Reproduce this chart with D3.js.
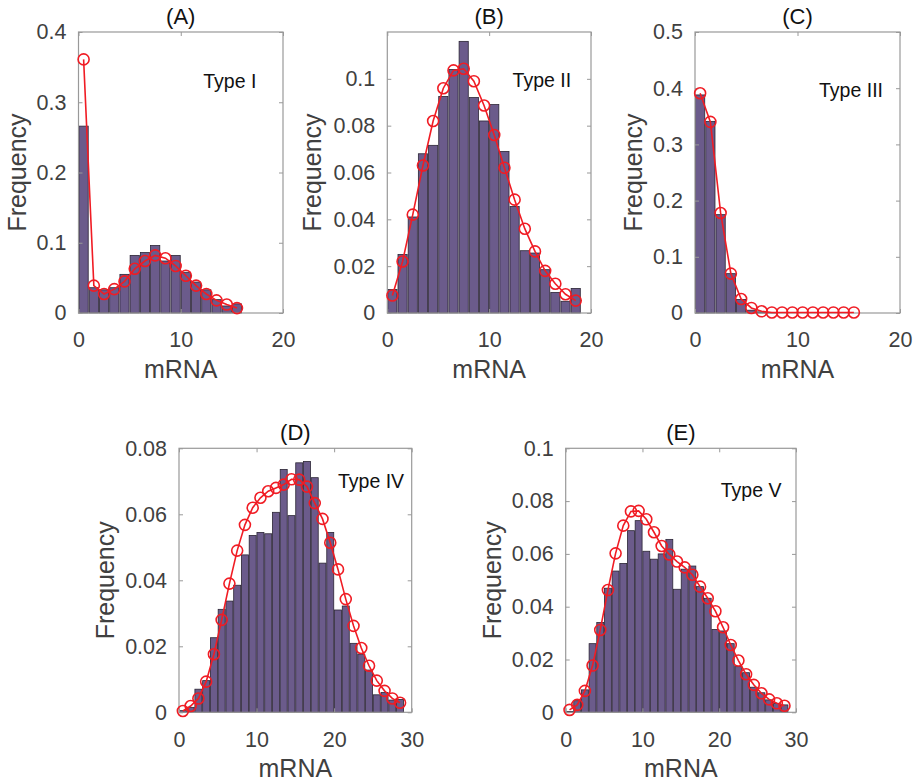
<!DOCTYPE html>
<html>
<head>
<meta charset="utf-8">
<script src="https://cdn.jsdelivr.net/npm/d3@7"></script>
<style>
  body { margin: 0; background: #fff; }
  svg { font-family: "Liberation Sans", Arial, Helvetica, sans-serif; }
  .tick text { fill: #404040; font-size: 21.5px; }
  .axlabel { fill: #404040; font-size: 25px; }
  .ptitle { fill: #111; font-size: 22px; }
  .ptype { fill: #111; font-size: 19.5px; }
</style>
</head>
<body>
<div id="chart"></div>
<script>
// histogram bar heights (bins of width 1 starting at 0) and model points (at bin centres)
var barsA = [0.266, 0.036, 0.033, 0.036, 0.055, 0.082, 0.086, 0.096, 0.074, 0.082, 0.058, 0.044, 0.033, 0.019, 0.010, 0.013];
var fitA  = [0.361, 0.039, 0.027, 0.034, 0.045, 0.063, 0.074, 0.082, 0.078, 0.067, 0.053, 0.039, 0.027, 0.018, 0.012, 0.007];

var barsB = [0.010, 0.025, 0.041, 0.068, 0.0716, 0.0925, 0.104, 0.116, 0.092, 0.082, 0.089, 0.069, 0.0455, 0.0266, 0.0256, 0.0185, 0.0088, 0.005, 0.0105];
var fitB  = [0.0075, 0.022, 0.042, 0.063, 0.082, 0.096, 0.1036, 0.1043, 0.099, 0.0886, 0.076, 0.062, 0.0484, 0.036, 0.0263, 0.018, 0.0125, 0.008, 0.0053];

var barsC = [0.388, 0.341, 0.175, 0.070, 0.024, 0.005, 0.002, 0.001];
var fitC  = [0.391, 0.340, 0.178, 0.070, 0.025, 0.009, 0.003, 0.001, 0.001, 0.001, 0.001, 0.001, 0.001, 0.001, 0.001, 0.001];

var barsD = [0.0005, 0.0015, 0.007, 0.0096, 0.0226, 0.0312, 0.0337, 0.0385, 0.0477, 0.0536, 0.0545, 0.0541, 0.0606, 0.0736, 0.0596, 0.0756, 0.076, 0.0711, 0.0452, 0.0545, 0.031, 0.0322, 0.0209, 0.0176, 0.0128, 0.0053, 0.006, 0.0037, 0.0039];
var fitD  = [0.0004, 0.0019, 0.0042, 0.0093, 0.0176, 0.028, 0.039, 0.049, 0.0568, 0.062, 0.065, 0.067, 0.068, 0.069, 0.0706, 0.0705, 0.0684, 0.0634, 0.0586, 0.0514, 0.0433, 0.0343, 0.0262, 0.0195, 0.0141, 0.0096, 0.0065, 0.0042, 0.0029];

var barsE = [0.0003, 0.0044, 0.0085, 0.026, 0.034, 0.047, 0.0535, 0.0564, 0.0688, 0.0726, 0.061, 0.058, 0.060, 0.0655, 0.0466, 0.0542, 0.0554, 0.0476, 0.0432, 0.0314, 0.0308, 0.026, 0.0173, 0.015, 0.0095, 0.0074, 0.0047, 0.0034, 0.0028];
var fitE  = [0.0009, 0.0028, 0.0081, 0.0177, 0.0312, 0.0463, 0.0602, 0.0707, 0.0761, 0.0763, 0.0731, 0.0682, 0.063, 0.0598, 0.0571, 0.0549, 0.0521, 0.0476, 0.0432, 0.0383, 0.0322, 0.0255, 0.0196, 0.0144, 0.0104, 0.0072, 0.0049, 0.0034, 0.0025];

var panelTitles = ["(A)", "(B)", "(C)", "(D)", "(E)"];
var typeLabels = ["Type I", "Type II", "Type III", "Type IV", "Type V"];
var xMaxes = [20, 20, 20, 30, 30];
var yMaxes = [0.4, 0.12, 0.5, 0.08, 0.1];
var yTickSets = [
    [0, 0.1, 0.2, 0.3, 0.4],
    [0, 0.02, 0.04, 0.06, 0.08, 0.1],
    [0, 0.1, 0.2, 0.3, 0.4, 0.5],
    [0, 0.02, 0.04, 0.06, 0.08],
    [0, 0.02, 0.04, 0.06, 0.08, 0.1]
];
var xTickSets = [[0, 10, 20], [0, 10, 20], [0, 10, 20], [0, 10, 20, 30], [0, 10, 20, 30]];
// where the "Type" text sits, in data units
var typePos = [[12.2, 0.33], [12.3, 0.0995], [12.1, 0.397], [20.5, 0.0699], [20.2, 0.0842]];

var allBars = [barsA, barsB, barsC, barsD, barsE];
var allFits = [fitA, fitB, fitC, fitD, fitE];

// pixel boxes of each axes [left, top, right, bottom]
var boxes = [
    [78.5, 32, 283, 313],
    [387.3, 32, 591, 313],
    [695, 32, 900, 313],
    [179, 448.3, 411.7, 712.3],
    [565.7, 448.3, 796, 712.3]
];
// baseline offset of the rotated "Frequency" label from the left edge
var yLabelOffsets = [-53, -66, -53, -65, -65];

var svg = d3.select("#chart").append("svg")
    .attr("width", 916)
    .attr("height", 784);

var fmt = function (v) {
    if (v === 0) return "0";
    return String(+v.toFixed(2));
};

for (var p = 0; p < 5; p++) {
    var b = boxes[p];
    var w = b[2] - b[0], h = b[3] - b[1];
    var g = svg.append("g").attr("transform", "translate(" + b[0] + "," + b[1] + ")");

    var x = d3.scaleLinear().domain([0, xMaxes[p]]).range([0, w]);
    var y = d3.scaleLinear().domain([0, yMaxes[p]]).range([h, 0]);

    var bars = allBars[p];
    var fit = allFits[p];

    // histogram bars
    g.selectAll("rect.bar").data(bars).enter().append("rect")
        .attr("class", "bar")
        .attr("x", function (d, i) { return x(i + 0.05); })
        .attr("width", x(0.9) - x(0))
        .attr("y", function (d) { return y(d); })
        .attr("height", function (d) { return h - y(d); })
        .attr("fill", "#6b5b8b")
        .attr("stroke", "#2b2535")
        .attr("stroke-width", 0.8);

    // axes box
    g.append("rect")
        .attr("x", 0).attr("y", 0)
        .attr("width", w).attr("height", h)
        .attr("fill", "none")
        .attr("stroke", "#999")
        .attr("stroke-width", 1.2);

    var xAxis = d3.axisBottom(x).tickValues(xTickSets[p]).tickSize(-4).tickPadding(19).tickFormat(d3.format("d"));
    var yAxis = d3.axisLeft(y).tickValues(yTickSets[p]).tickSize(-4).tickPadding(12).tickFormat(fmt);

    var gx = g.append("g").attr("transform", "translate(0," + h + ")").call(xAxis);
    var gy = g.append("g").call(yAxis);
    // mirrored ticks on the right and top
    var gy2 = g.append("g").attr("transform", "translate(" + w + ",0)")
        .call(d3.axisRight(y).tickValues(yTickSets[p]).tickSize(-4).tickFormat(""));
    var gx2 = g.append("g")
        .call(d3.axisTop(x).tickValues(xTickSets[p]).tickSize(-4).tickFormat(""));

    [gx, gy, gy2, gx2].forEach(function (a) {
        a.select(".domain").remove();
        a.selectAll(".tick line").attr("stroke", "#999");
    });

    // model curve
    var line = d3.line()
        .x(function (d, i) { return x(i + 0.5); })
        .y(function (d) { return y(d); });

    g.append("path")
        .datum(fit)
        .attr("d", line)
        .attr("fill", "none")
        .attr("stroke", "#f01c24")
        .attr("stroke-width", 1.6);

    g.selectAll("circle.fit").data(fit).enter().append("circle")
        .attr("class", "fit")
        .attr("cx", function (d, i) { return x(i + 0.5); })
        .attr("cy", function (d) { return y(d); })
        .attr("r", 5.5)
        .attr("fill", "none")
        .attr("stroke", "#f01c24")
        .attr("stroke-width", 1.6);

    // text
    g.append("text")
        .attr("class", "ptitle")
        .attr("x", w / 2)
        .attr("y", -8)
        .attr("text-anchor", "middle")
        .text(panelTitles[p]);

    g.append("text")
        .attr("class", "ptype")
        .attr("x", x(typePos[p][0]))
        .attr("y", y(typePos[p][1]))
        .attr("dy", "0.35em")
        .text(typeLabels[p]);

    g.append("text")
        .attr("class", "axlabel")
        .attr("x", w / 2)
        .attr("y", h + 65)
        .attr("text-anchor", "middle")
        .text("mRNA");

    g.append("text")
        .attr("class", "axlabel")
        .attr("transform", "translate(" + yLabelOffsets[p] + "," + (h / 2) + ") rotate(-90)")
        .attr("text-anchor", "middle")
        .text("Frequency");
}
</script>
</body>
</html>
